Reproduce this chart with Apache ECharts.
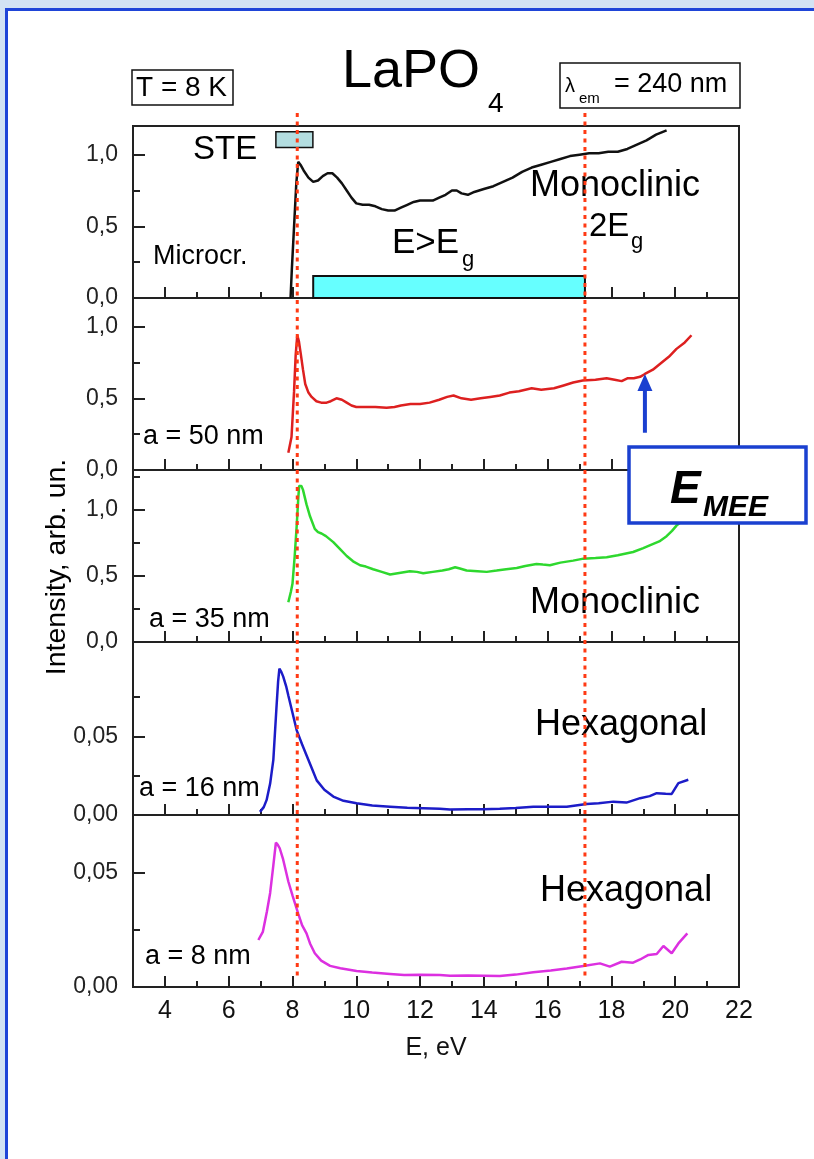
<!DOCTYPE html>
<html><head><meta charset="utf-8">
<script src="https://cdn.jsdelivr.net/npm/echarts@6/dist/echarts.min.js"></script>
<style>
html,body{margin:0;padding:0;width:814px;height:1159px;overflow:hidden;background:#d3e3f4;}
#frame{position:absolute;left:5px;top:8px;width:840px;height:1180px;background:#fff;border:3px solid #1f45d8;box-sizing:border-box;}
#chart{position:absolute;left:0;top:0;width:814px;height:1159px;}
</style></head><body><div id="frame"></div><div id="chart"></div>
<script>
// ---- data ----
const E_TICKS_MAJOR = [4,6,8,10,12,14,16,18,20,22];
const E_TICKS_MINOR = [5,7,9,11,13,15,17,19,21];
const E_MIN = 3, E_MAX = 22;

const microcr = [[7.94,0],[7.98,0.2],[8.05,0.5],[8.12,0.8],[8.18,0.95],[8.25,0.93],[8.35,0.89],[8.5,0.84],[8.65,0.81],[8.8,0.82],[8.95,0.85],[9.1,0.87],[9.25,0.87],[9.4,0.84],[9.55,0.80],[9.7,0.75],[9.85,0.70],[10.0,0.66],[10.2,0.65],[10.4,0.65],[10.6,0.64],[10.8,0.62],[11.0,0.61],[11.2,0.61],[11.4,0.63],[11.6,0.65],[11.8,0.67],[12.0,0.68],[12.2,0.68],[12.4,0.68],[12.6,0.70],[12.8,0.72],[13.0,0.75],[13.15,0.75],[13.3,0.73],[13.5,0.72],[13.7,0.74],[14.0,0.76],[14.3,0.78],[14.6,0.81],[14.9,0.84],[15.2,0.88],[15.5,0.91],[15.8,0.93],[16.1,0.95],[16.4,0.97],[16.7,0.99],[17.0,1.00],[17.3,1.01],[17.6,1.01],[17.9,1.02],[18.2,1.02],[18.5,1.04],[18.8,1.07],[19.1,1.10],[19.4,1.14],[19.73,1.17]];
const nm50 = [[7.87,0.12],[7.97,0.23],[8.05,0.55],[8.1,0.8],[8.15,0.94],[8.2,0.90],[8.26,0.81],[8.33,0.70],[8.4,0.60],[8.5,0.54],[8.6,0.51],[8.75,0.48],[8.9,0.47],[9.07,0.47],[9.2,0.48],[9.38,0.50],[9.55,0.49],[9.7,0.47],[9.85,0.45],[10.0,0.44],[10.3,0.44],[10.6,0.44],[10.95,0.435],[11.2,0.44],[11.4,0.45],[11.7,0.46],[12.0,0.46],[12.3,0.47],[12.6,0.49],[12.85,0.51],[13.05,0.52],[13.3,0.50],[13.6,0.49],[13.9,0.50],[14.2,0.51],[14.5,0.52],[14.8,0.54],[15.1,0.55],[15.5,0.57],[15.8,0.56],[16.2,0.57],[16.5,0.59],[16.8,0.61],[17.1,0.625],[17.5,0.63],[17.85,0.64],[18.1,0.63],[18.32,0.62],[18.5,0.64],[18.7,0.64],[18.9,0.65],[19.05,0.67],[19.3,0.70],[19.52,0.74],[19.8,0.79],[20.04,0.845],[20.3,0.89],[20.51,0.94]];
const nm35 = [[7.87,0.30],[7.95,0.38],[8.0,0.44],[8.07,0.65],[8.13,0.87],[8.18,1.08],[8.21,1.18],[8.28,1.18],[8.33,1.15],[8.44,1.04],[8.55,0.95],[8.7,0.855],[8.8,0.83],[8.91,0.82],[9.05,0.80],[9.28,0.755],[9.5,0.70],[9.7,0.65],[9.9,0.61],[10.12,0.58],[10.3,0.57],[10.53,0.55],[10.8,0.53],[11.06,0.51],[11.3,0.52],[11.68,0.535],[11.9,0.53],[12.1,0.52],[12.4,0.53],[12.7,0.54],[12.9,0.55],[13.1,0.565],[13.25,0.555],[13.46,0.54],[13.8,0.535],[14.09,0.53],[14.4,0.54],[14.7,0.55],[15.03,0.56],[15.3,0.575],[15.65,0.59],[15.85,0.585],[16.07,0.58],[16.4,0.60],[16.8,0.615],[17.12,0.63],[17.5,0.635],[17.85,0.64],[18.2,0.655],[18.68,0.68],[19.0,0.71],[19.2,0.73],[19.5,0.76],[19.73,0.80],[19.9,0.84],[20.04,0.88],[20.3,0.93]];
const nm16 = [[6.98,0.002],[7.1,0.005],[7.19,0.0096],[7.3,0.02],[7.4,0.035],[7.5,0.069],[7.55,0.085],[7.59,0.093],[7.65,0.091],[7.71,0.088],[7.8,0.082],[7.87,0.076],[8.0,0.065],[8.13,0.054],[8.3,0.045],[8.44,0.038],[8.6,0.03],[8.76,0.022],[9.0,0.016],[9.28,0.0117],[9.6,0.009],[10.01,0.0075],[10.5,0.006],[11.06,0.0053],[11.6,0.0046],[12.1,0.0043],[12.62,0.0040],[12.94,0.0035],[13.5,0.0036],[13.98,0.0036],[14.5,0.004],[15.0,0.0045],[15.55,0.0053],[16.1,0.0052],[16.6,0.0053],[17.22,0.007],[17.6,0.0075],[18.06,0.0085],[18.47,0.0079],[18.9,0.0107],[19.2,0.012],[19.42,0.0139],[19.7,0.0135],[19.89,0.0134],[20.1,0.0203],[20.41,0.0224]];
const nm8 = [[6.93,0.0205],[7.07,0.024],[7.2,0.033],[7.3,0.041],[7.4,0.053],[7.48,0.063],[7.54,0.062],[7.6,0.0605],[7.7,0.056],[7.87,0.046],[8.0,0.040],[8.18,0.032],[8.3,0.027],[8.44,0.0234],[8.55,0.019],[8.7,0.0147],[8.9,0.0115],[9.18,0.0092],[9.5,0.0082],[10.01,0.007],[10.5,0.0063],[11.06,0.0057],[11.5,0.0052],[12.0,0.0053],[12.62,0.0052],[12.94,0.0049],[13.5,0.005],[14.0,0.0049],[14.5,0.0048],[15.0,0.0054],[15.55,0.0064],[16.1,0.0072],[16.6,0.0081],[17.12,0.0092],[17.64,0.0103],[17.95,0.0089],[18.32,0.011],[18.68,0.0106],[18.9,0.012],[19.16,0.014],[19.42,0.0144],[19.63,0.0179],[19.89,0.0147],[20.1,0.019],[20.38,0.0234]];

const Y_MAX = [1.2, 1.2, 1.3, 0.11, 0.075];
const Y_TICKS_MAJOR = [[0,0.5,1.0],[0,0.5,1.0],[0,0.5,1.0],[0,0.05],[0,0.05]];
const Y_TICKS_MINOR = [[0.25,0.75],[0.25,0.75],[0.25,0.75,1.25],[0.025,0.075],[0.025]];
const Y_DECIMALS = [1,1,1,2,2];
const SERIES_NAMES = ['Microcr.','a = 50 nm','a = 35 nm','a = 16 nm','a = 8 nm'];
const SERIES_DATA = [microcr, nm50, nm35, nm16, nm8];
const STE_BAND = [[7.48,1.05],[8.64,1.16]];
const GAP_BAND = [[8.65,0],[17.17,0.153]];
const MARK_LINES_E = [8.15, 17.17];
const EMEE_POINT = [19.05, 0.67];
const EMEE_TAIL = 0.26;

// ---- layout / style ----
const COLORS = ['#111111','#dd2020','#2ed82e','#1c1cc8','#dc30e0'];
const GRID_TOPS = [126,298,470,642,815];
const GRID_H = [172,172,172,173,172];
const FONT = '"Liberation Sans", Arial, sans-serif';
const AX = '#222';

const chart = echarts.init(document.getElementById('chart'), null, {renderer:'canvas'});

const grid=[], xAxis=[], yAxis=[], series=[];
for (let i=0;i<5;i++){
  grid.push({left:133, width:606, top:GRID_TOPS[i], height:GRID_H[i], show:true, borderColor:AX, borderWidth:2, backgroundColor:'transparent'});
  const last = i===4;
  xAxis.push({type:'value', gridIndex:i, position:'bottom', min:E_MIN, max:E_MAX,
    axisLine:{show:true, onZero:false, lineStyle:{color:AX,width:2}},
    axisTick:{show:true, inside:true, length:11, customValues:E_TICKS_MAJOR, lineStyle:{color:AX,width:2}},
    axisLabel:{show:last, customValues:E_TICKS_MAJOR, margin:12, color:'#111', fontSize:25, fontFamily:FONT},
    splitLine:{show:false},
    name:last?'E, eV':'', nameLocation:'middle', nameGap:49, nameTextStyle:{fontSize:25, color:'#111', fontFamily:FONT}
  });
  xAxis.push({type:'value', gridIndex:i, position:'bottom', min:E_MIN, max:E_MAX,
    axisLine:{show:false}, axisLabel:{show:false}, splitLine:{show:false},
    axisTick:{show:true, inside:true, length:6, customValues:E_TICKS_MINOR, lineStyle:{color:AX,width:2}}
  });
  const dec = Y_DECIMALS[i];
  yAxis.push({type:'value', gridIndex:i, position:'left', min:0, max:Y_MAX[i],
    axisLine:{show:true, onZero:false, lineStyle:{color:AX,width:2}},
    axisTick:{show:true, inside:true, length:12, customValues:Y_TICKS_MAJOR[i], lineStyle:{color:AX,width:2}},
    axisLabel:{show:true, customValues:Y_TICKS_MAJOR[i], margin:15, color:'#222', fontSize:23, fontFamily:FONT,
      formatter:v=>Number(v).toFixed(dec).replace('.',',')},
    splitLine:{show:false}
  });
  yAxis.push({type:'value', gridIndex:i, position:'left', min:0, max:Y_MAX[i],
    axisLine:{show:false}, axisLabel:{show:false}, splitLine:{show:false},
    axisTick:{show:true, inside:true, length:7, customValues:Y_TICKS_MINOR[i], lineStyle:{color:AX,width:2}}
  });
  const s = {type:'line', name:SERIES_NAMES[i], xAxisIndex:2*i, yAxisIndex:2*i, data:SERIES_DATA[i],
    showSymbol:false, symbol:'none', smooth:false, lineStyle:{color:COLORS[i], width:2.5}, z:3, silent:true};
  if (i===0){
    s.markArea = {silent:true, label:{show:false}, data:[
      [{xAxis:STE_BAND[0][0], yAxis:STE_BAND[0][1], itemStyle:{color:'#b3dde0', borderColor:'#111', borderWidth:1.5}},
       {xAxis:STE_BAND[1][0], yAxis:STE_BAND[1][1]}],
      [{xAxis:GAP_BAND[0][0], yAxis:GAP_BAND[0][1], itemStyle:{color:'#66ffff', borderColor:'#111', borderWidth:2}},
       {xAxis:GAP_BAND[1][0], yAxis:GAP_BAND[1][1]}]
    ]};
  }
  series.push(s);
}

chart.setOption({animation:false, backgroundColor:'transparent', grid, xAxis, yAxis, series});

function txt(text, x, y, size, opts){
  opts = opts||{};
  return {type:'text', z:50, x:x, y:y, rotation:opts.rotation||0,
    style:{text:text, fill:opts.fill||'#000',
      fontSize:size, fontFamily:FONT, fontWeight:opts.weight||'normal', fontStyle:opts.style||'normal',
      textAlign:opts.align||'left', textVerticalAlign:'middle', verticalAlign:'middle', align:opts.align||'left'}};
}

const g = [];
// header boxes
g.push({type:'rect', z:40, shape:{x:132,y:70,width:101,height:35}, style:{fill:'#fff', stroke:'#111', lineWidth:1.5}});
g.push(txt('T = 8 K', 136, 88, 28));
g.push({type:'rect', z:40, shape:{x:560,y:63,width:180,height:45}, style:{fill:'#fff', stroke:'#111', lineWidth:1.5}});
g.push(txt('λ', 565, 86, 20));
g.push(txt('em', 579, 99, 15));
g.push(txt('= 240 nm', 614, 85, 27));
g.push(txt('LaPO', 342, 72, 54));
g.push(txt('4', 488, 104, 28));
// panel annotations
g.push(txt('STE', 193, 150, 33));
g.push(txt('Microcr.', 153, 257, 27));
g.push(txt('E>E', 392, 243, 35));
g.push(txt('g', 462, 260, 22));
g.push(txt('Monoclinic', 530, 186, 36));
g.push(txt('2E', 589, 227, 33));
g.push(txt('g', 631, 242, 22));
g.push(txt('a = 50 nm', 143, 437, 27));
g.push(txt('a = 35 nm', 149, 620, 27));
g.push(txt('Monoclinic', 530, 603, 36));
g.push(txt('Hexagonal', 535, 725, 36));
g.push(txt('a = 16 nm', 139, 789, 27));
g.push(txt('Hexagonal', 540, 891, 36));
g.push(txt('a = 8 nm', 145, 957, 27));
// y axis title
g.push(txt('Intensity, arb. un.', 57, 567, 28.5, {rotation:Math.PI/2, align:'center'}));

// red dotted guide lines (through axis scale)
MARK_LINES_E.forEach(e=>{
  const px = chart.convertToPixel({xAxisIndex:0}, e);
  g.push({type:'line', z:60, shape:{x1:px,y1:113,x2:px,y2:978},
    style:{stroke:'#ff3a14', lineWidth:3, lineDash:[4,4.5]}});
});

// E_MEE arrow
const tip = chart.convertToPixel({xAxisIndex:2, yAxisIndex:2}, EMEE_POINT);
const tail = chart.convertToPixel({xAxisIndex:2, yAxisIndex:2}, [EMEE_POINT[0], EMEE_TAIL]);
g.push({type:'line', z:45, shape:{x1:tip[0],y1:tip[1]+14,x2:tail[0],y2:tail[1]}, style:{stroke:'#1a3fd0', lineWidth:4}});
g.push({type:'polygon', z:45, shape:{points:[[tip[0],tip[1]],[tip[0]-7.5,tip[1]+17],[tip[0]+7.5,tip[1]+17]]}, style:{fill:'#1a3fd0'}});
// E_MEE box
g.push({type:'rect', z:70, shape:{x:629,y:447,width:177,height:76}, style:{fill:'#fff', stroke:'#1a40d0', lineWidth:3.5}});
g.push(Object.assign(txt('E', 670, 490, 46, {weight:'bold', style:'italic'}), {z:71}));
g.push(Object.assign(txt('MEE', 703, 508, 30, {weight:'bold', style:'italic'}), {z:71}));

chart.setOption({graphic:{elements:g}});
</script></body></html>
